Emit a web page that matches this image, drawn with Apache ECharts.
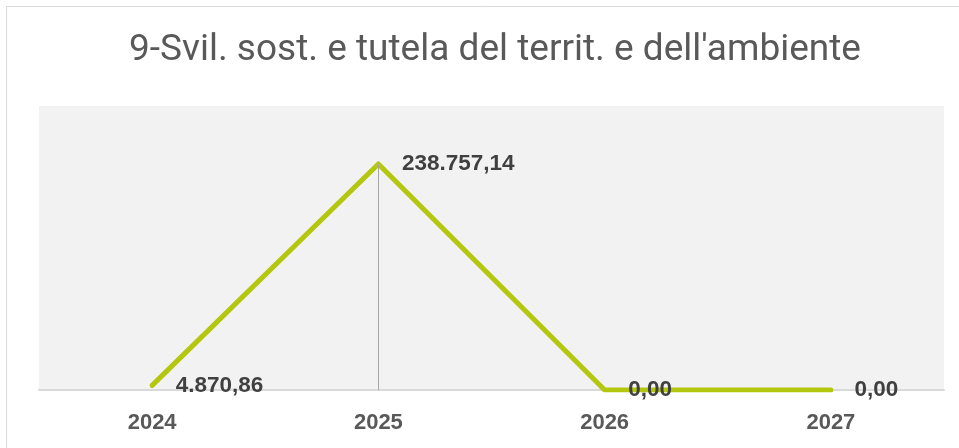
<!DOCTYPE html>
<html><head><meta charset="utf-8">
<script src="https://cdn.jsdelivr.net/npm/echarts@6/dist/echarts.min.js"></script>
<style>html,body{margin:0;padding:0;background:#fff}#c{width:959px;height:448px}</style>
</head><body><div id="c"></div>
<script>
const titleText = "9-Svil. sost. e tutela del territ. e dell'ambiente";
const categories = ["2024", "2025", "2026", "2027"];
const values = [4870.86, 238757.14, 0, 0];
const dropIndex = 1;

function fmt(v){
  const parts = v.toFixed(2).split('.');
  parts[0] = parts[0].replace(/\B(?=(\d{3})+(?!\d))/g, '.');
  return parts[0] + ',' + parts[1];
}

const chart = echarts.init(document.getElementById('c'), null, {renderer:'canvas'});
chart.setOption({
  animation:false,
  backgroundColor:'#ffffff',
  graphic:[{type:'rect', shape:{x:6.5,y:6.5,width:980,height:460}, style:{fill:'none', stroke:'#d9d9d9', lineWidth:1}, z:-1}],
  title:{text:titleText, left:490, textAlign:'center', top:27,
    textStyle:{fontFamily:'Roboto', fontWeight:'normal', fontSize:37, color:'#595959'}},
  grid:{left:39, right:15, top:106, bottom:58, show:true, backgroundColor:'#f2f2f2', borderWidth:0},
  xAxis:{type:'category', data:categories, boundaryGap:true,
    axisLine:{lineStyle:{color:'#d9d9d9', width:2}}, axisTick:{show:false},
    axisLabel:{fontFamily:'Liberation Sans', fontWeight:'bold', fontSize:22, color:'#595959', margin:22}},
  yAxis:{type:'value', min:0, max:300000, show:false, splitLine:{show:false}},
  series:[{type:'line', data:values, symbol:'circle', symbolSize:1, showSymbol:true,
    itemStyle:{color:'#b3c70e'},
    lineStyle:{color:'#b3c70e', width:5, cap:'round', join:'round'},
    label:{show:true, position:'right', distance:23, padding:[6,0,0,0], formatter:p=>fmt(p.value),
      fontFamily:'Liberation Sans', fontWeight:'bold', fontSize:22.5, color:'#404040'},
    labelLayout:{hideOverlap:false},
    markLine:{silent:true, symbol:'none', label:{show:false},
      lineStyle:{color:'#a6a6a6', width:1, type:'solid'},
      data:[[{coord:[dropIndex, values[dropIndex]]},{coord:[dropIndex, 0]}]]}
  }]
});
</script></body></html>
